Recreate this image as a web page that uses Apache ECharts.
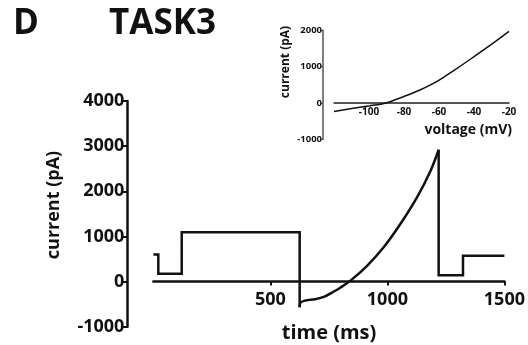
<!DOCTYPE html>
<html>
<head>
<meta charset="utf-8">
<script src="https://cdn.jsdelivr.net/npm/echarts@6/dist/echarts.min.js"></script>
<style>
  html, body { margin: 0; padding: 0; background: #fff; }
  #chart { width: 528px; height: 345px; }
</style>
</head>
<body>
<div id="chart"></div>
<script>
// Whole-cell current during the voltage protocol (time in ms, current in pA)
// Holding and step segments before the ramp
const preTimeMs = [0, 21, 21, 121, 121, 625, 625];
const preCurrentPa = [600, 600, 175, 175, 1090, 1090, -570];
// Voltage ramp segment
const rampTimeMs = [625, 628, 650, 690, 728, 771, 800, 842, 913, 984, 1056, 1127, 1184, 1219];
const rampCurrentPa = [-570, -470, -420, -390, -340, -220, -130, 20, 350, 760, 1280, 1870, 2450, 2920];
// Steps after the ramp
const postTimeMs = [1219, 1219, 1323, 1323, 1500];
const postCurrentPa = [2920, 140, 140, 570, 570];

// Current-voltage relation taken from the ramp (voltage in mV, current in pA)
const voltageMv = [-120, -109, -99.4, -90.9, -80.4, -70.9, -61.3, -51.8, -42.3, -32.7, -20];
const ivCurrentPa = [-230, -145, -74, -8, 173, 356, 584, 882, 1192, 1515, 1965];

// Axis ticks
const timeTicks = [500, 1000, 1500];
const currentTicks = [-1000, 0, 1000, 2000, 3000, 4000];
const voltageTicks = [-100, -80, -60, -40, -20];
const ivTicks = [-1000, 0, 1000, 2000];

// Axis ranges
const timeRange = [0, 1500];
const currentRange = [-1000, 4000];
const voltageRange = [-120, -20];
const ivRange = [-1000, 2000];

const FONT = '"Open Sans", "DejaVu Sans", sans-serif';
const INK = '#111';

// Plot areas (pixels)
const mainGrid = { left: 153.4, top: 101, width: 351.6, height: 225.7 };
const insetGrid = { left: 334, top: 30, width: 175, height: 109.5 };

// Lift each x axis from the bottom of its plot area up to the zero-current line
const zeroLift = (grid, range) => -grid.height * (0 - range[0]) / (range[1] - range[0]);

const chart = echarts.init(document.getElementById('chart'), null, { renderer: 'canvas' });

const boldText = (size) => ({ fontFamily: FONT, fontWeight: 'bold', fontSize: size, color: INK });
const plain = (v) => String(v);
const pairs = (xs, ys) => xs.map((x, i) => [x, ys[i]]);

const traceStyle = { color: INK, width: 2.5, join: 'miter' };

chart.setOption({
  animation: false,
  backgroundColor: '#fff',
  grid: [
    { ...mainGrid, containLabel: false },
    { ...insetGrid, containLabel: false }
  ],
  xAxis: [
    {
      gridIndex: 0, type: 'value', min: timeRange[0], max: timeRange[1], interval: 500,
      offset: zeroLift(mainGrid, currentRange),
      axisLine: { onZero: false, lineStyle: { color: INK, width: 2.5 } },
      axisTick: { show: true, length: 4, customValues: timeTicks, lineStyle: { color: INK, width: 2 } },
      axisLabel: { customValues: timeTicks, margin: 9, formatter: plain, ...boldText(18) },
      splitLine: { show: false }
    },
    {
      gridIndex: 1, type: 'value', min: voltageRange[0], max: voltageRange[1], interval: 20,
      offset: zeroLift(insetGrid, ivRange),
      axisLine: { onZero: false, lineStyle: { color: '#222', width: 1.5 } },
      axisTick: { show: false },
      axisLabel: { customValues: voltageTicks, margin: 4, formatter: plain, ...boldText(10) },
      splitLine: { show: false }
    }
  ],
  yAxis: [
    {
      gridIndex: 0, type: 'value', min: currentRange[0], max: currentRange[1], interval: 1000, offset: 26,
      axisLine: { show: true, onZero: false, lineStyle: { color: INK, width: 2.5 } },
      axisTick: { show: true, length: 5, customValues: currentTicks, lineStyle: { color: INK, width: 2 } },
      axisLabel: { margin: 3, formatter: plain, ...boldText(18) },
      splitLine: { show: false }
    },
    {
      gridIndex: 1, type: 'value', min: ivRange[0], max: ivRange[1], interval: 1000, offset: 11,
      axisLine: { show: true, onZero: false, lineStyle: { color: '#555', width: 1.5 } },
      axisTick: { show: true, length: 2, customValues: ivTicks, lineStyle: { color: '#555', width: 1 } },
      axisLabel: { margin: 1, formatter: plain, ...boldText(9.5) },
      splitLine: { show: false }
    }
  ],
  series: [
    {
      type: 'line', xAxisIndex: 0, yAxisIndex: 0,
      data: pairs(preTimeMs, preCurrentPa),
      showSymbol: false, smooth: false, lineStyle: traceStyle
    },
    {
      type: 'line', xAxisIndex: 0, yAxisIndex: 0,
      data: pairs(rampTimeMs, rampCurrentPa),
      showSymbol: false, smooth: 0.35, lineStyle: traceStyle
    },
    {
      type: 'line', xAxisIndex: 0, yAxisIndex: 0,
      data: pairs(postTimeMs, postCurrentPa),
      showSymbol: false, smooth: false, lineStyle: traceStyle
    },
    {
      type: 'line', xAxisIndex: 1, yAxisIndex: 1,
      data: pairs(voltageMv, ivCurrentPa),
      showSymbol: false, smooth: 0.35,
      lineStyle: { color: INK, width: 1.5 }
    }
  ],
  graphic: [
    { type: 'text', left: 13, top: 7, style: { text: 'D', font: 'bold 35px ' + FONT, fill: INK } },
    { type: 'text', left: 109, top: 7, style: { text: 'TASK3', font: 'bold 35px ' + FONT, fill: INK } },
    { type: 'text', x: 54, y: 205, rotation: Math.PI / 2,
      style: { text: 'current (pA)', font: 'bold 18px ' + FONT, fill: INK, align: 'center', verticalAlign: 'middle' } },
    { type: 'text', x: 329, y: 333,
      style: { text: 'time (ms)', font: 'bold 20px ' + FONT, fill: INK, align: 'center', verticalAlign: 'middle' } },
    { type: 'text', x: 286, y: 62, rotation: Math.PI / 2,
      style: { text: 'current (pA)', font: 'bold 12px ' + FONT, fill: INK, align: 'center', verticalAlign: 'middle' } },
    { type: 'text', x: 512, y: 130,
      style: { text: 'voltage (mV)', font: 'bold 14px ' + FONT, fill: INK, align: 'right', verticalAlign: 'middle' } }
  ]
});
</script>
</body>
</html>
